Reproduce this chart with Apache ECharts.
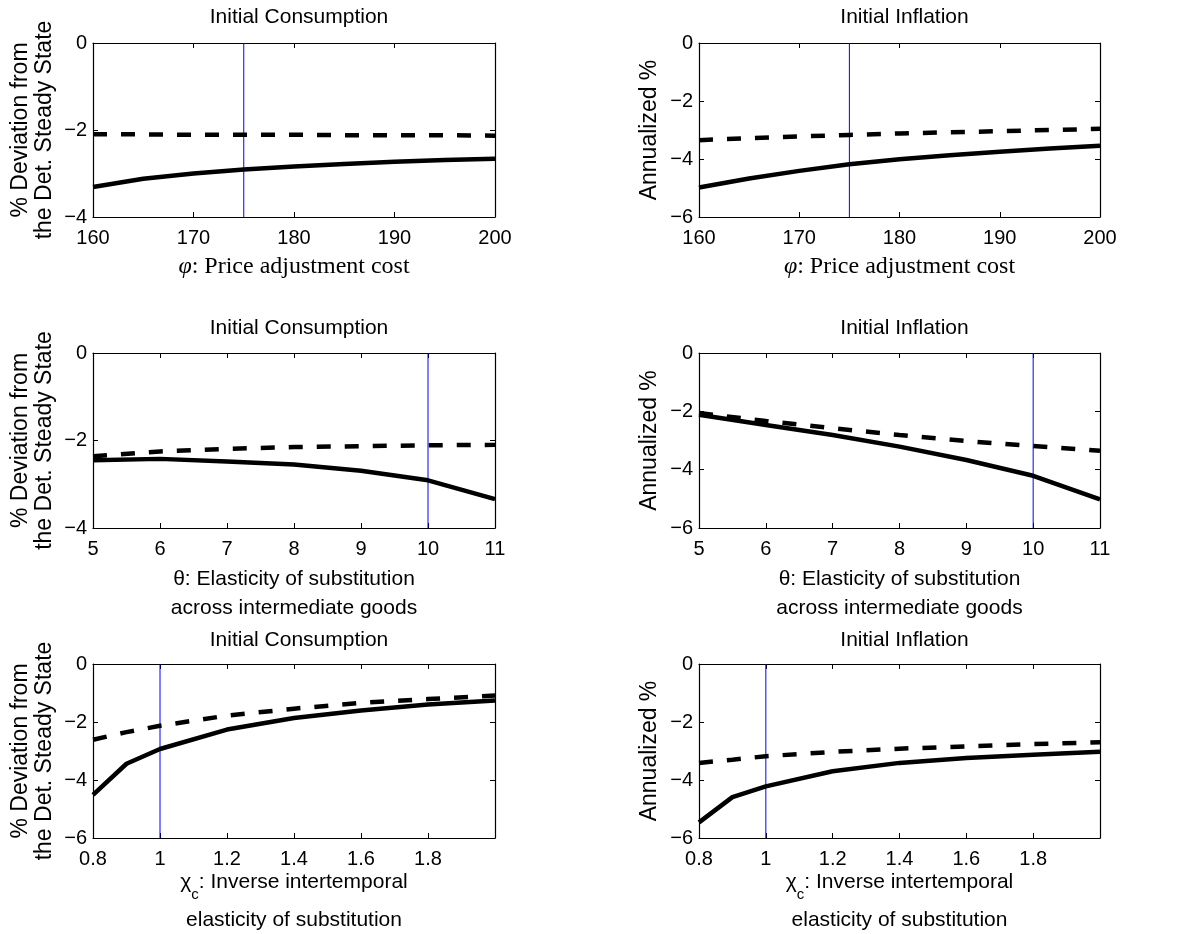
<!DOCTYPE html>
<html>
<head>
<meta charset="utf-8">
<script src="https://cdn.jsdelivr.net/npm/echarts@6/dist/echarts.min.js"></script>
<style>html,body{margin:0;padding:0;background:#fff;}#c{width:1203px;height:934px;}</style>
</head>
<body>
<div id="c"></div>
<script>
// ---- data ----
const phiVals = [160, 165, 170, 175, 180, 185, 190, 195, 200];
const consPhiSolid = [-3.31, -3.12, -3.00, -2.91, -2.84, -2.78, -2.73, -2.69, -2.66];
const consPhiDashed = [-2.10, -2.10, -2.11, -2.11, -2.11, -2.12, -2.12, -2.12, -2.13];
const inflPhiSolid = [-4.98, -4.67, -4.41, -4.18, -4.01, -3.87, -3.75, -3.64, -3.54];
const inflPhiDashed = [-3.35, -3.28, -3.22, -3.17, -3.12, -3.08, -3.04, -3.00, -2.96];

const thetaVals = [5, 6, 7, 8, 9, 10, 11];
const consThetaSolid = [-2.45, -2.42, -2.48, -2.55, -2.69, -2.91, -3.34];
const consThetaDashed = [-2.36, -2.25, -2.19, -2.15, -2.13, -2.11, -2.10];
const inflThetaSolid = [-2.12, -2.47, -2.81, -3.21, -3.67, -4.21, -5.02];
const inflThetaDashed = [-2.06, -2.33, -2.58, -2.81, -3.02, -3.19, -3.35];

const chiVals = [0.8, 0.9, 1.0, 1.2, 1.4, 1.6, 1.8, 2.0];
const consChiSolid = [-4.51, -3.44, -2.93, -2.26, -1.86, -1.60, -1.40, -1.26];
const consChiDashed = [-2.61, -2.35, -2.13, -1.78, -1.54, -1.34, -1.21, -1.09];
const inflChiSolid = [-5.46, -4.59, -4.22, -3.70, -3.41, -3.24, -3.13, -3.03];
const inflChiDashed = [-3.41, -3.30, -3.18, -3.03, -2.92, -2.84, -2.76, -2.70];

const calibration = [175, 10, 1];           // blue vertical marker per row
const xRanges = [[160, 200, 10], [5, 11, 1], [0.8, 2.0, 0.2]];
const yRangeCons = [[-4, 0, 2], [-4, 0, 2], [-6, 0, 2]];
const yRangeInfl = [[-6, 0, 2], [-6, 0, 2], [-6, 0, 2]];
const titles = ['Initial Consumption', 'Initial Inflation'];
const yNames = ['% Deviation from\nthe Det. Steady State', 'Annualized %'];

// ---- layout ----
const SANS = 'Liberation Sans, Arial, Helvetica, sans-serif';
const SERIF = 'Liberation Serif, Times New Roman, serif';
const colLeft = [93, 699], colWidth = [402, 401];
const rowTop = [43, 353, 664], rowHeight = [174, 175, 174];
const titleTop = [2, 313, 625];

const xNames = [
  { text: '{i|φ}{t|: Price adjustment cost}', gap: 37,
    rich: { i: { fontFamily: SERIF, fontStyle: 'italic', fontSize: 24, color: '#000' },
            t: { fontFamily: SERIF, fontSize: 24, color: '#000' } } },
  { text: 'θ: Elasticity of substitution\nacross intermediate goods', gap: 37, lineHeight: 29 },
  { text: '{g|χ}{s|c}{t|: Inverse intertemporal}\n{u|elasticity of substitution}', gap: 34,
    rich: { g: { fontFamily: SANS, fontSize: 21, color: '#000', lineHeight: 30, verticalAlign: 'top' },
            s: { fontFamily: SANS, fontSize: 15, color: '#000', verticalAlign: 'bottom', lineHeight: 30 },
            t: { fontFamily: SANS, fontSize: 21, color: '#000', lineHeight: 30, verticalAlign: 'top' },
            u: { fontFamily: SANS, fontSize: 21, color: '#000', lineHeight: 37 } } }
];

const rowData = [
  [phiVals, consPhiSolid, consPhiDashed, inflPhiSolid, inflPhiDashed],
  [thetaVals, consThetaSolid, consThetaDashed, inflThetaSolid, inflThetaDashed],
  [chiVals, consChiSolid, consChiDashed, inflChiSolid, inflChiDashed]
];

const fmtMinus = v => String(v).replace('-', '\u2212');
const pairs = (xs, ys) => xs.map((x, i) => [x, ys[i]]);

const grids = [], xAxes = [], yAxes = [], series = [], titleArr = [];
let k = 0;
for (let r = 0; r < 3; r++) {
  for (let c = 0; c < 2; c++) {
    const [xmin, xmax, xint] = xRanges[r];
    const [ymin, ymax, yint] = (c === 0 ? yRangeCons : yRangeInfl)[r];
    grids.push({ left: colLeft[c], top: rowTop[r], width: colWidth[c], height: rowHeight[r],
      containLabel: false, outerBoundsMode: 'none' });
    titleArr.push({ text: titles[c], left: colLeft[c] + colWidth[c] / 2, top: titleTop[r], textAlign: 'center',
      textStyle: { fontFamily: SANS, fontSize: 21, fontWeight: 'normal', color: '#000' } });
    const xn = xNames[r];
    xAxes.push({
      type: 'value', gridIndex: k, min: xmin, max: xmax, interval: xint, position: 'bottom',
      name: xn.text, nameLocation: 'middle', nameGap: xn.gap,
      nameTextStyle: { fontFamily: SANS, fontSize: 21, color: '#000', lineHeight: xn.lineHeight || 26, rich: xn.rich || {} },
      axisLine: { show: true, onZero: false, lineStyle: { color: '#000', width: 1.2 } },
      axisTick: { show: true, inside: true, length: 5, lineStyle: { color: '#000' } },
      axisLabel: { fontFamily: SANS, fontSize: 20, color: '#000', margin: 11, showMaxLabel: r !== 2, showMinLabel: true },
      splitLine: { show: false }
    });
    xAxes.push({
      type: 'value', gridIndex: k, min: xmin, max: xmax, interval: xint, position: 'top',
      axisLine: { show: true, onZero: false, lineStyle: { color: '#000', width: 1.2 } },
      axisTick: { show: true, inside: true, length: 5, lineStyle: { color: '#000' } },
      axisLabel: { show: false }, splitLine: { show: false }
    });
    yAxes.push({
      type: 'value', gridIndex: k, min: ymin, max: ymax, interval: yint, position: 'left',
      name: yNames[c], nameLocation: 'middle', nameGap: c === 0 ? 36 : 37,
      nameTextStyle: { fontFamily: SANS, fontSize: 23, color: '#000', lineHeight: 24 },
      axisLine: { show: true, onZero: false, lineStyle: { color: '#000', width: 1.2 } },
      axisTick: { show: true, inside: true, length: 5, lineStyle: { color: '#000' } },
      axisLabel: { fontFamily: SANS, fontSize: 20, color: '#000', margin: 6, formatter: fmtMinus },
      splitLine: { show: false }
    });
    yAxes.push({
      type: 'value', gridIndex: k, min: ymin, max: ymax, interval: yint, position: 'right',
      axisLine: { show: true, onZero: false, lineStyle: { color: '#000', width: 1.2 } },
      axisTick: { show: true, inside: true, length: 5, lineStyle: { color: '#000' } },
      axisLabel: { show: false }, splitLine: { show: false }
    });
    const d = rowData[r];
    const xs = d[0], solid = d[1 + 2 * c], dashed = d[2 + 2 * c];
    // calibrated-value marker: vertical blue line spanning the axis range
    series.push({
      type: 'line', xAxisIndex: 2 * k, yAxisIndex: 2 * k,
      data: [[calibration[r], ymin], [calibration[r], ymax]], symbol: 'none',
      lineStyle: { color: '#0000ff', width: 1 }, silent: true, z: 2
    });
    series.push({
      type: 'line', xAxisIndex: 2 * k, yAxisIndex: 2 * k, data: pairs(xs, dashed), symbol: 'none',
      lineStyle: { color: '#000', width: 4.5, type: [14, 14] }, silent: true, z: 3
    });
    series.push({
      type: 'line', xAxisIndex: 2 * k, yAxisIndex: 2 * k, data: pairs(xs, solid), symbol: 'none',
      lineStyle: { color: '#000', width: 4.5 }, silent: true, z: 3
    });
    k++;
  }
}

const chart = echarts.init(document.getElementById('c'), null, { renderer: 'canvas' });
chart.setOption({
  animation: false,
  backgroundColor: '#fff',
  title: titleArr,
  grid: grids,
  xAxis: xAxes,
  yAxis: yAxes,
  series: series
});
</script>
</body>
</html>
